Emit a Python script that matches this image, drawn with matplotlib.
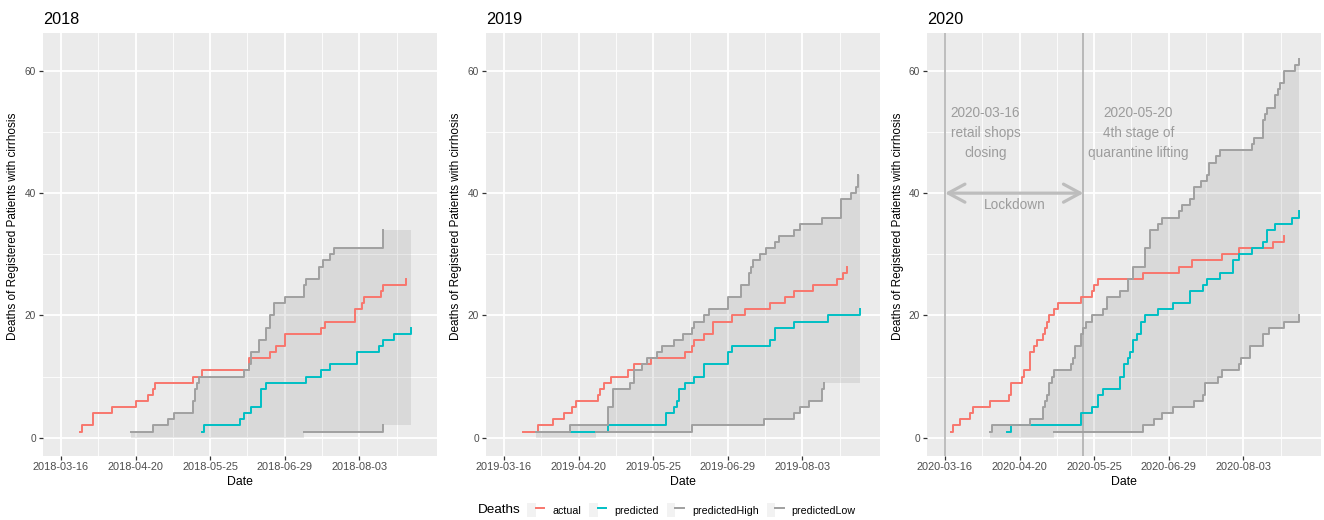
import matplotlib
matplotlib.use('Agg')
import matplotlib.pyplot as plt
import matplotlib.dates as mdates
import numpy as np
import pandas as pd
from matplotlib.lines import Line2D
from matplotlib.patches import Patch
from matplotlib.legend_handler import HandlerTuple

plt.rcParams['font.family'] = ['Liberation Sans', 'DejaVu Sans']

# cumulative deaths; step positions are days after 16 March of each year
actual_2018_days = [9, 10, 15, 24, 35, 41, 43, 44, 62, 66, 88, 98, 101, 105, 122, 124, 138, 141, 142, 150, 151, 162]
actual_2018_n = [1, 2, 4, 5, 6, 7, 8, 9, 10, 11, 13, 14, 15, 17, 18, 19, 21, 22, 23, 24, 25, 26]
pred_2018_days = [66, 67, 84, 86, 89, 94, 96, 115, 122, 126, 139, 149, 151, 156, 164]
pred_2018_n = [1, 2, 3, 4, 5, 8, 9, 10, 11, 12, 14, 15, 16, 17, 18]
high_2018_days = [33, 43, 50, 53, 62, 63, 64, 65, 86, 88, 89, 93, 96, 98, 100, 105, 114, 115, 121, 123, 126, 128, 151]
high_2018_n = [1, 2, 3, 4, 6, 8, 9, 10, 11, 12, 14, 16, 18, 20, 22, 23, 25, 26, 28, 29, 30, 31, 34]
low_2018_days = [114, 151]
low_2018_n = [1, 2]

actual_2019_days = [9, 16, 23, 28, 32, 34, 44, 45, 47, 50, 58, 61, 69, 85, 88, 89, 94, 98, 107, 113, 125, 132, 136, 145, 156, 159, 161]
actual_2019_n = [1, 2, 3, 4, 5, 6, 7, 8, 9, 10, 11, 12, 13, 14, 15, 16, 17, 19, 20, 21, 22, 23, 24, 25, 26, 27, 28]
pred_2019_days = [31, 49, 76, 80, 81, 82, 85, 89, 94, 105, 107, 125, 127, 136, 152, 167]
pred_2019_n = [1, 2, 4, 5, 6, 8, 9, 10, 12, 14, 15, 16, 18, 19, 20, 21]
high_2019_days = [15, 31, 49, 51, 59, 61, 65, 67, 72, 74, 80, 84, 88, 89, 94, 96, 105, 111, 115, 116, 117, 120,
                  123, 127, 129, 136, 139, 149, 158, 163, 165, 166]
high_2019_n = [1, 2, 5, 8, 9, 11, 12, 13, 14, 15, 16, 17, 18, 19, 20, 21, 23, 25, 27, 28, 29, 30,
               31, 32, 33, 34, 35, 36, 39, 40, 41, 43]
low_2019_days = [43, 88, 122, 136, 139, 143, 149, 150]
low_2019_n = [1, 2, 3, 4, 5, 6, 8, 9]

actual_2020_days = [3, 4, 7, 12, 13, 21, 30, 31, 36, 37, 40, 42, 43, 46, 47, 48, 49, 51, 53, 64, 69, 70, 72, 93,
                    110, 116, 130, 138, 154, 159]
actual_2020_n = [1, 2, 3, 4, 5, 6, 7, 9, 10, 11, 14, 15, 16, 17, 18, 19, 20, 21, 22, 23, 24, 25, 26, 27,
                 28, 29, 30, 31, 32, 33]
pred_2020_days = [29, 31, 64, 69, 72, 74, 82, 84, 86, 87, 88, 90, 92, 94, 100, 107, 115, 121, 123, 129, 135, 138,
                  144, 149, 151, 155, 163, 166]
pred_2020_n = [1, 2, 4, 5, 7, 8, 10, 12, 13, 14, 16, 17, 19, 20, 21, 22, 24, 25, 26, 27, 29, 30,
               31, 32, 34, 35, 36, 37]
high_2020_days = [21, 22, 40, 46, 47, 48, 49, 50, 51, 59, 60, 61, 64, 65, 66, 69, 74, 76, 82, 86, 88, 94, 96, 100,
                  102, 110, 111, 115, 117, 120, 123, 124, 127, 129, 144, 145, 149, 150, 151, 155, 156, 157, 159,
                  164, 166]
high_2020_n = [1, 2, 3, 5, 6, 7, 9, 10, 11, 12, 13, 15, 17, 18, 19, 20, 21, 23, 24, 26, 28, 31, 34, 35,
               36, 37, 38, 39, 41, 42, 43, 45, 46, 47, 48, 49, 52, 53, 54, 56, 57, 58, 60,
               61, 62]
low_2020_days = [51, 93, 98, 102, 107, 117, 121, 122, 128, 130, 138, 139, 143, 149, 152, 159, 166]
low_2020_n = [1, 2, 3, 4, 5, 6, 7, 9, 10, 11, 12, 13, 15, 17, 18, 19, 20]

years = [2018, 2019, 2020]
series = {
    2018: (actual_2018_days, actual_2018_n, pred_2018_days, pred_2018_n,
           high_2018_days, high_2018_n, low_2018_days, low_2018_n),
    2019: (actual_2019_days, actual_2019_n, pred_2019_days, pred_2019_n,
           high_2019_days, high_2019_n, low_2019_days, low_2019_n),
    2020: (actual_2020_days, actual_2020_n, pred_2020_days, pred_2020_n,
           high_2020_days, high_2020_n, low_2020_days, low_2020_n),
}

lockdown_start = '2020-03-16'
lifting_date = '2020-05-20'

COL_ACTUAL = '#F8766D'
COL_PRED = '#00BFC4'
COL_BAND = '#a0a0a0'
ANNO = '#9c9c9c'

W, H = 1324, 520
fig = plt.figure(figsize=(W / 100, H / 100), dpi=100)
panel_left = [43, 486, 927]
panel_w = 394
top, bottom = 33, 456


def to_dates(start, days):
    return start + pd.to_timedelta(np.asarray(days, dtype=float), unit='D')


def step_at(days, vals, grid):
    idx = np.searchsorted(days, grid, side='right') - 1
    vals = np.asarray(vals, dtype=float)
    return np.where(idx >= 0, vals[np.clip(idx, 0, None)], 0.0)


for i, year in enumerate(years):
    a_d, a_n, p_d, p_n, h_d, h_n, l_d, l_n = series[year]
    start = pd.Timestamp(f'{year}-03-16')
    ax = fig.add_axes([panel_left[i] / W, (H - bottom) / H, panel_w / W, (bottom - top) / H])
    ax.set_facecolor('#EBEBEB')
    for s in ax.spines.values():
        s.set_visible(False)

    # prediction band between low and high estimates
    end = max(p_d[-1], h_d[-1])
    grid = np.unique(np.concatenate([h_d, [d for d in l_d if d >= h_d[0]], [end]]))
    hi = step_at(h_d, h_n, grid)
    lo = step_at(l_d, l_n, grid)
    ax.fill_between(to_dates(start, grid), lo, hi, step='post', color='#808080', alpha=0.16,
                    linewidth=0, zorder=1)

    if year == 2020:
        for d in [lockdown_start, lifting_date]:
            ax.axvline(pd.Timestamp(d), color='#ababab', lw=1.1, zorder=1.5)

    ax.step(to_dates(start, a_d), a_n, where='post', color=COL_ACTUAL, lw=1.4, zorder=2)
    ax.step(to_dates(start, p_d), p_n, where='post', color=COL_PRED, lw=1.4, zorder=2.1)
    ax.step(to_dates(start, h_d), h_n, where='post', color=COL_BAND, lw=1.4, zorder=2.2)
    ax.step(to_dates(start, l_d), l_n, where='post', color=COL_BAND, lw=1.4, zorder=2.2)

    if year == 2020:
        ax.annotate('', xy=(pd.Timestamp(lockdown_start), 40), xytext=(pd.Timestamp(lifting_date), 40),
                    arrowprops=dict(arrowstyle='<->,head_length=1.2,head_width=0.65', color='#bdbdbd',
                                    lw=2.3, shrinkA=0, shrinkB=0, mutation_scale=10), zorder=2.5)
        ax.text(start + pd.Timedelta(days=32.8), 38, 'Lockdown', color=ANNO, fontsize=9.8,
                ha='center', va='center', zorder=3)
        ax.text(start + pd.Timedelta(days=19), 49.8, '2020-03-16\nretail shops\nclosing', color=ANNO,
                fontsize=9.8, ha='center', va='center', linespacing=1.55, zorder=3)
        ax.text(start + pd.Timedelta(days=90.7), 49.8, '2020-05-20\n4th stage of\nquarantine lifting',
                color=ANNO, fontsize=9.8, ha='center', va='center', linespacing=1.55, zorder=3)

    ax.set_xlim(start - pd.Timedelta(days=8.4), start + pd.Timedelta(days=176.4))
    ax.set_ylim(-3.0, 66.2)
    ax.set_xticks(to_dates(start, [0, 35, 70, 105, 140]))
    ax.set_xticks(to_dates(start, [17.5, 52.5, 87.5, 122.5, 157.5]), minor=True)
    ax.xaxis.set_major_formatter(mdates.DateFormatter('%Y-%m-%d'))
    ax.set_yticks([0, 20, 40, 60])
    ax.set_yticks([10, 30, 50], minor=True)
    ax.set_axisbelow(True)
    ax.grid(which='major', color='white', lw=1.3)
    ax.grid(which='minor', color='white', lw=0.6)
    ax.tick_params(which='major', length=3, width=0.9, color='#333333', labelcolor='#4D4D4D')
    ax.tick_params(which='minor', length=0)
    ax.tick_params(axis='x', labelsize=7.9, pad=1.5)
    ax.tick_params(axis='y', labelsize=7.3, pad=2)

    ax.set_xlabel('Date', fontsize=8.8)
    ax.xaxis.set_label_coords(0.5, -0.062)
    ax.xaxis.label.set_va('center')
    ax.set_ylabel('Deaths of Registered Patients with cirrhosis', fontsize=8.5)
    ax.yaxis.set_label_coords(-29.5 / panel_w, 0.544)
    ax.yaxis.label.set_va('center')
    ax.text(0, 1 + 9 / (bottom - top), str(year), transform=ax.transAxes, fontsize=11.7,
            ha='left', va='baseline')

# legend along the bottom
key_bg = '#F2F2F2'
handles = [(Patch(facecolor=key_bg, edgecolor='none'), Line2D([], [], color=c, lw=1.4))
           for c in [COL_ACTUAL, COL_PRED, COL_BAND, COL_BAND]]
labels = ['actual', 'predicted', 'predictedHigh', 'predictedLow']
fig.legend(handles, labels, loc='center left', bbox_to_anchor=(527 / W, 1 - 510 / H), ncol=4,
           frameon=False, fontsize=7.7, handlelength=1.6, handleheight=1.6, handletextpad=0.75,
           columnspacing=0.75, borderpad=0, borderaxespad=0,
           handler_map={tuple: HandlerTuple(ndivide=None)})
fig.text(478 / W, 1 - 510 / H, 'Deaths', fontsize=9.7, ha='left', va='center')

fig.savefig('out.png', dpi=100)
